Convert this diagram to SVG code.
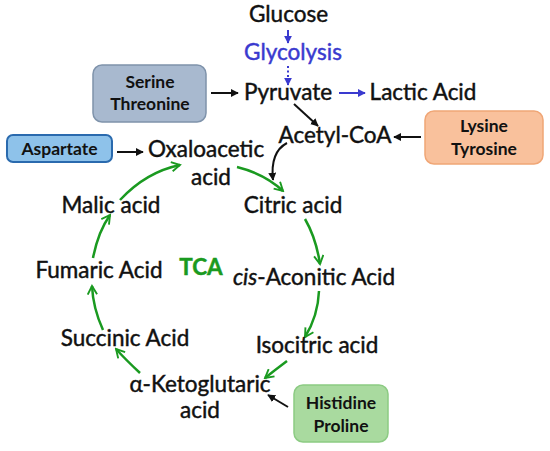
<svg xmlns="http://www.w3.org/2000/svg" width="550" height="451" viewBox="0 0 550 451">
<defs>
<style>
.t{font-family:Lato,"Open Sans","Liberation Sans",sans-serif;font-size:22.5px;fill:#111;stroke:#111;stroke-width:0.45;text-anchor:middle}
.b{font-family:Lato,"Open Sans","Liberation Sans",sans-serif;font-size:17.5px;font-weight:bold;fill:#111;text-anchor:middle}
.blue{fill:#3a3acf;stroke:#3a3acf}
.tca{fill:#1a9a20;stroke:#1a9a20;font-weight:bold}
.k{stroke:#111;stroke-width:2;fill:none}
.bl{stroke:#3a3acf;stroke-width:2;fill:none}
.g{stroke:#1a9a20;stroke-width:2.5;fill:none}
</style>
<marker id="ak" viewBox="0 0 10 10" refX="9" refY="5" markerWidth="4" markerHeight="4" orient="auto" markerUnits="strokeWidth"><path d="M0,0L10,5L0,10z" fill="#111"/></marker>
<marker id="ab" viewBox="0 0 10 10" refX="9" refY="5" markerWidth="4" markerHeight="4" orient="auto" markerUnits="strokeWidth"><path d="M0,0L10,5L0,10z" fill="#3a3acf"/></marker>
<marker id="ag" viewBox="0 0 12 12" refX="10" refY="6" markerWidth="4.5" markerHeight="4.5" orient="auto" markerUnits="strokeWidth"><path d="M1,1L10,6L1,11" fill="none" stroke="#1a9a20" stroke-width="2"/></marker>
</defs>
<rect width="550" height="451" fill="#fff"/>
<g id="connectors">
<path class="bl" d="M288,30V43" marker-end="url(#ab)"/>
<path class="bl" d="M288,66V85" stroke-dasharray="2,2.5" marker-end="url(#ab)"/>
<path class="bl" d="M339,93H365" marker-end="url(#ab)"/>
<path class="k" d="M211,93H238" marker-end="url(#ak)"/>
<path class="k" d="M294,104L318,126" marker-end="url(#ak)"/>
<path class="k" d="M421,137H394" marker-end="url(#ak)"/>
<path class="k" d="M117,152H143" marker-end="url(#ak)"/>
<path class="k" d="M287,143Q270,152 273,180" marker-end="url(#ak)"/>
<path class="k" d="M288,407L268,395" marker-end="url(#ak)"/>
<path class="g" d="M237,167Q265,174 283,191" marker-end="url(#ag)"/>
<path class="g" d="M305,219Q316,238 320,264" marker-end="url(#ag)"/>
<path class="g" d="M319,291Q318,316 305,337" marker-end="url(#ag)"/>
<path class="g" d="M287,361Q275,370 265,378" marker-end="url(#ag)"/>
<path class="g" d="M140,373Q126,360 116,349" marker-end="url(#ag)"/>
<path class="g" d="M103,330Q93,308 92,286" marker-end="url(#ag)"/>
<path class="g" d="M93,258Q98,232 110,215" marker-end="url(#ag)"/>
<path class="g" d="M120,200Q146,172 180,165" marker-end="url(#ag)"/>
</g>
<g id="glucose"><text class="t" x="288.5" y="22">Glucose</text></g>
<g id="glycolysis"><text class="t blue" x="293" y="60">Glycolysis</text></g>
<g id="pyruvate"><text class="t" x="288" y="100">Pyruvate</text></g>
<g id="lactic"><text class="t" x="423" y="100">Lactic Acid</text></g>
<g id="acetylcoa"><text class="t" x="335" y="143">Acetyl-CoA</text></g>
<g id="oxaloacetic"><text class="t" x="206" y="157">Oxaloacetic</text><text class="t" x="211" y="185">acid</text></g>
<g id="citric"><text class="t" x="293" y="213">Citric acid</text></g>
<g id="cisaconitic"><text class="t" x="314" y="285"><tspan font-style="italic">cis</tspan>-Aconitic Acid</text></g>
<g id="isocitric"><text class="t" x="317" y="353">Isocitric acid</text></g>
<g id="ketoglutaric"><text class="t" x="200" y="392">α-Ketoglutaric</text><text class="t" x="200" y="418">acid</text></g>
<g id="succinic"><text class="t" x="125" y="346">Succinic Acid</text></g>
<g id="fumaric"><text class="t" x="99" y="278">Fumaric Acid</text></g>
<g id="malic"><text class="t" x="111" y="213">Malic acid</text></g>
<g id="tca"><text class="t tca" x="201" y="275">TCA</text></g>
<g id="serine"><rect x="93" y="65" width="113" height="57" rx="9" fill="#a8b9cf" stroke="#7f93ab" stroke-width="1.5"/><text class="b" x="150" y="88">Serine</text><text class="b" x="150" y="110">Threonine</text></g>
<g id="lysine"><rect x="425" y="111" width="118" height="53" rx="9" fill="#f9c19c" stroke="#f0a676" stroke-width="1.5"/><text class="b" x="484" y="132">Lysine</text><text class="b" x="484" y="155">Tyrosine</text></g>
<g id="aspartate"><rect x="7" y="135" width="105" height="27" rx="6" fill="#8ec2ea" stroke="#2a6aae" stroke-width="2"/><text class="b" x="59.5" y="155">Aspartate</text></g>
<g id="histidine"><rect x="294" y="385" width="94" height="57" rx="9" fill="#a9da9f" stroke="#8ccb83" stroke-width="1.5"/><text class="b" x="341" y="409">Histidine</text><text class="b" x="341" y="432">Proline</text></g>
</svg>
